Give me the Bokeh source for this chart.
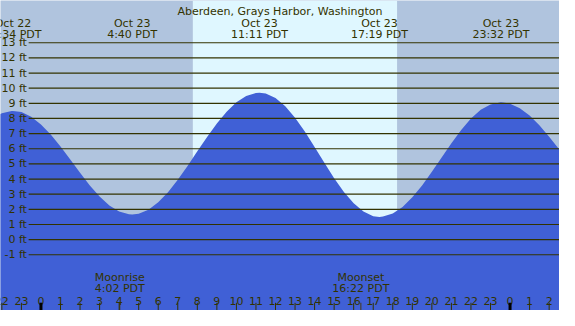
from bokeh.plotting import figure
from bokeh.models import Range1d
from bokeh.embed import file_html
from bokeh.resources import INLINE
from bokeh.core.properties import value

# ---- data (hours relative to midnight starting Oct 23, heights in ft) ----
title = "Aberdeen, Grays Harbor, Washington"

curve_hours = [-2.5, -2, -1.5, -1.433, -1, -0.5, 0, 0.5, 1, 1.5, 2, 2.5, 3, 3.5,
               4, 4.5, 4.667, 5, 5.5, 6, 6.5, 7, 7.5, 8, 8.5, 9, 9.5, 10, 10.5,
               11, 11.183, 11.5, 12, 12.5, 13, 13.5, 14, 14.5, 15, 15.5, 16, 16.5,
               17, 17.317, 17.5, 18, 18.5, 19, 19.5, 20, 20.5, 21, 21.5, 22, 22.5,
               23, 23.533, 24, 24.5, 25, 25.5, 26, 26.5, 27]
curve_heights = [7.97, 8.35, 8.50, 8.50, 8.42, 8.11, 7.61, 6.94, 6.15, 5.29, 4.41,
                 3.58, 2.85, 2.26, 1.86, 1.67, 1.66, 1.71, 1.98, 2.46, 3.13, 3.95,
                 4.86, 5.83, 6.78, 7.67, 8.45, 9.07, 9.49, 9.68, 9.70, 9.65, 9.35,
                 8.80, 8.05, 7.14, 6.12, 5.08, 4.06, 3.15, 2.40, 1.85, 1.55, 1.50,
                 1.52, 1.72, 2.16, 2.79, 3.58, 4.48, 5.43, 6.37, 7.24, 7.99, 8.57,
                 8.93, 9.07, 8.98, 8.68, 8.19, 7.55, 6.80, 5.98, 5.15]

extreme_hours = [-1.433, 4.667, 11.183, 17.317, 23.533]
extreme_dates = ["Oct 22", "Oct 23", "Oct 23", "Oct 23", "Oct 23"]
extreme_times = ["22:34 PDT", "4:40 PDT", "11:11 PDT", "17:19 PDT", "23:32 PDT"]

moon_hours = [4.033, 16.367]
moon_events = ["Moonrise", "Moonset"]
moon_times = ["4:02 PDT", "16:22 PDT"]

sunrise_hour = 7.77
sunset_hour = 18.22

level_ft = [-1, 0, 1, 2, 3, 4, 5, 6, 7, 8, 9, 10, 11, 12, 13]
level_labels = ["-1 ft", "0 ft", "1 ft", "2 ft", "3 ft", "4 ft", "5 ft", "6 ft",
                "7 ft", "8 ft", "9 ft", "10 ft", "11 ft", "12 ft", "13 ft"]

tick_hours = list(range(-2, 27))
tick_labels = ["22", "23", "0", "1", "2", "3", "4", "5", "6", "7", "8", "9", "10",
               "11", "12", "13", "14", "15", "16", "17", "18", "19", "20", "21",
               "22", "23", "0", "1", "2"]
midnight_hours = [0, 24]

# ---- layout ----
X0, X1 = -2.07, 26.53
Y0, Y1 = -4.68, 15.79
FONT = value("DejaVu Sans")
TXT = "#333300"

p = figure(width=559, height=310, output_backend="svg", toolbar_location=None,
           x_range=Range1d(X0, X1), y_range=Range1d(Y0, Y1),
           min_border=0, outline_line_color=None)
p.axis.visible = False
p.grid.visible = False
p.background_fill_color = "#B0C4DE"
p.border_fill_color = "#B0C4DE"

# daylight
p.quad(left=[sunrise_hour], right=[sunset_hour], bottom=[Y0], top=[Y1],
       fill_color="#DFF7FF", line_color=None)

# water
p.varea(x=curve_hours, y1=[Y0] * len(curve_hours), y2=curve_heights,
        fill_color="#4060D6")

# level lines
p.segment(x0=[-0.63] * len(level_ft), x1=[X1] * len(level_ft), y0=level_ft,
          y1=level_ft, line_color=TXT, line_width=1.2)
p.text(x=[-0.72] * len(level_ft), y=level_ft, text=level_labels, text_font=FONT,
       text_font_size="11px", text_color=TXT, text_align="right",
       text_baseline="middle")

# header
p.text(x=[(X0 + X1) / 2], y=[15.07], text=[title], text_font=FONT,
       text_font_size="11px", text_color=TXT, text_align="center",
       text_baseline="alphabetic")
p.text(x=extreme_hours, y=[14.28] * len(extreme_hours), text=extreme_dates,
       text_font=FONT, text_font_size="11px", text_color=TXT,
       text_align="center", text_baseline="alphabetic")
p.text(x=extreme_hours, y=[13.53] * len(extreme_hours), text=extreme_times,
       text_font=FONT, text_font_size="11px", text_color=TXT,
       text_align="center", text_baseline="alphabetic")

# moon
p.text(x=moon_hours, y=[-2.52] * len(moon_hours), text=moon_events,
       text_font=FONT, text_font_size="11px", text_color=TXT,
       text_align="center", text_baseline="alphabetic")
p.text(x=moon_hours, y=[-3.25] * len(moon_hours), text=moon_times,
       text_font=FONT, text_font_size="11px", text_color=TXT,
       text_align="center", text_baseline="alphabetic")
p.segment(x0=moon_hours, x1=moon_hours, y0=[-4.17] * 2, y1=[Y0] * 2,
          line_color="#4a3a10", line_width=1)

# hour ticks
p.text(x=tick_hours, y=[-4.03] * len(tick_hours), text=tick_labels,
       text_font=FONT, text_font_size="11px", text_color=TXT,
       text_align="center", text_baseline="alphabetic")
p.segment(x0=tick_hours, x1=tick_hours, y0=[-4.17] * len(tick_hours),
          y1=[Y0] * len(tick_hours), line_color=TXT, line_width=1)
p.segment(x0=midnight_hours, x1=midnight_hours, y0=[-4.17] * 2, y1=[Y0] * 2,
          line_color="#000000", line_width=3)

open("out.html", "w").write(file_html(p, INLINE))
